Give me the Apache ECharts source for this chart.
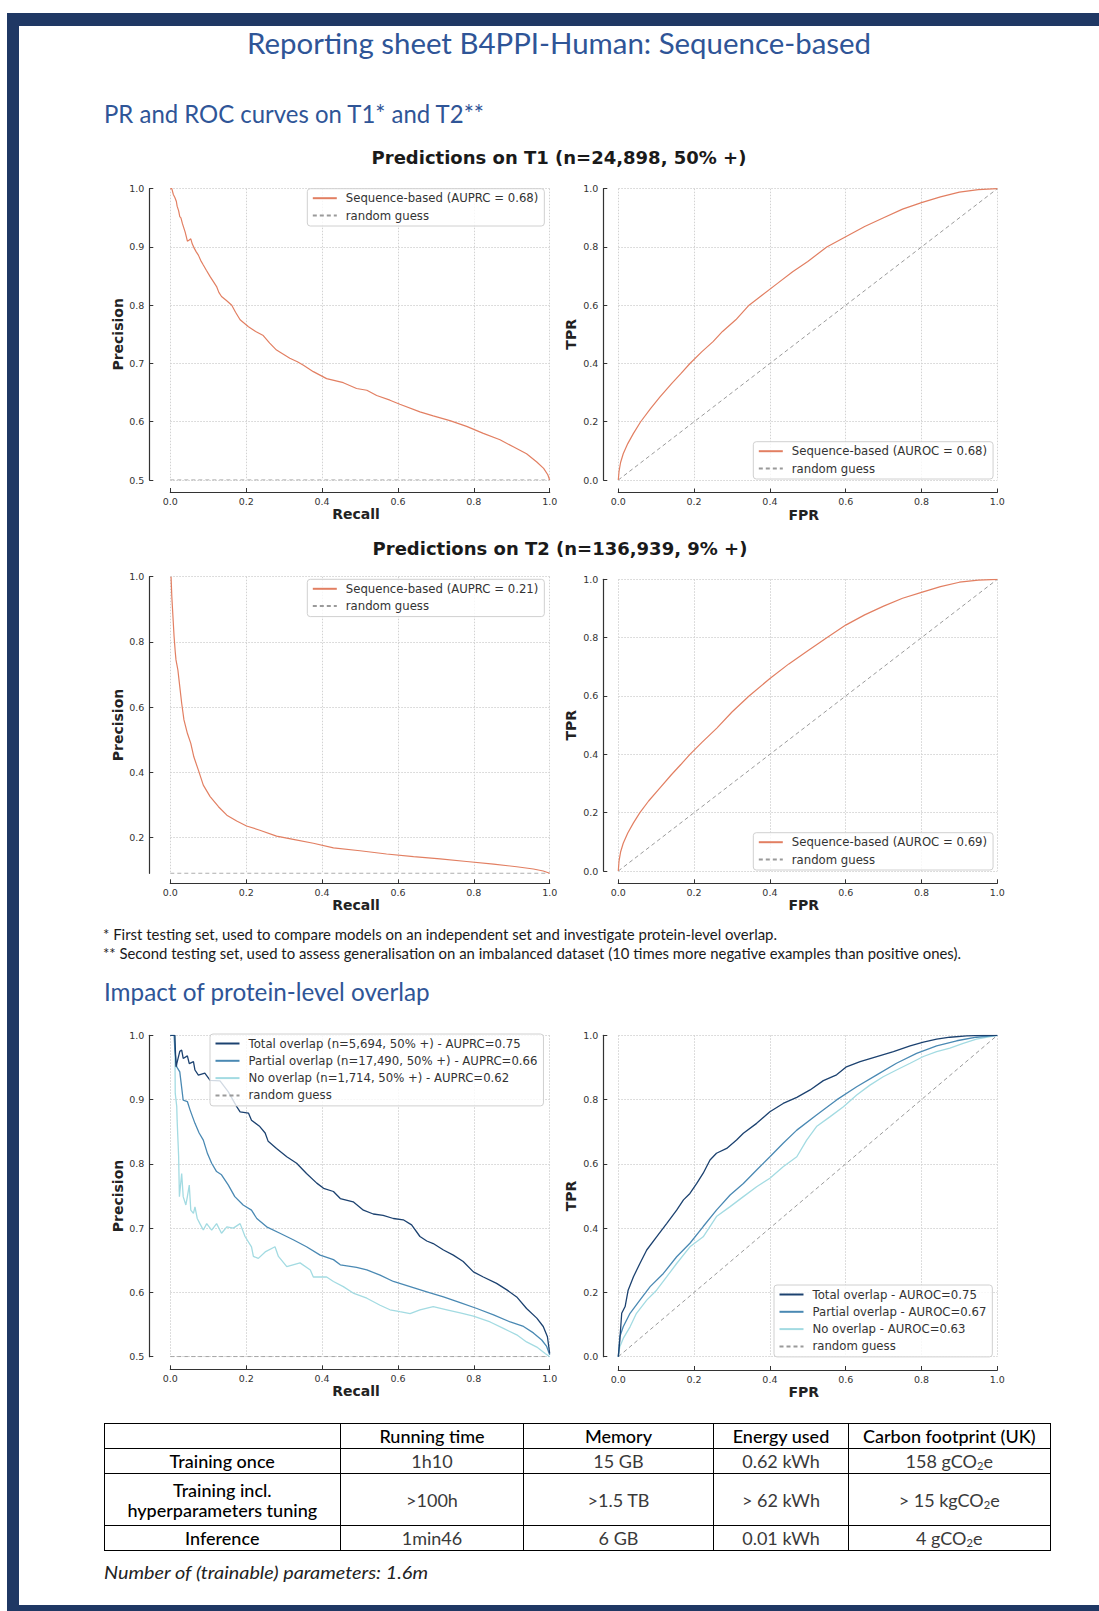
<!DOCTYPE html>
<html>
<head>
<meta charset="utf-8">
<script src="https://cdn.jsdelivr.net/npm/echarts@6/dist/echarts.min.js"></script>
<style>
html,body{margin:0;padding:0;background:#fff;}
#page{position:relative;width:1099px;height:1611px;overflow:hidden;background:#fff;}
#chart{position:absolute;left:0;top:0;width:1099px;height:1611px;}
.bar{position:absolute;background:#1F3864;}
.txt{position:absolute;white-space:nowrap;font-family:Lato,"Open Sans",sans-serif;line-height:1.2;transform-origin:0 50%;display:inline-block;}
.h{color:#2F5597;}
.note{color:#1a1a1a;font-size:15px;}
table.rep{position:absolute;left:103.5px;top:1423px;border-collapse:collapse;table-layout:fixed;font-family:Lato,"Open Sans",sans-serif;font-size:18px;}
table.rep td{border:1px solid #000;text-align:center;vertical-align:middle;padding:0;white-space:nowrap;overflow:visible;}
table.rep td.hd{color:#000;font-weight:500;}
table.rep td.v{color:#3a3a3a;font-weight:400;}
sub{font-size:0.62em;vertical-align:-0.18em;line-height:0;}
</style>
</head>
<body>
<div id="page">
  <div id="chart"></div>
  <div class="bar" style="left:7px;top:12.5px;right:0;height:13.5px"></div>
  <div class="bar" style="left:6.5px;top:12.5px;width:12px;bottom:0"></div>
  <div class="bar" style="left:6.5px;top:1605px;right:0;height:6px"></div>

  <div class="txt h" style="left:247px;top:26.7px;font-size:28px" data-w="624">Reporting sheet B4PPI-Human: Sequence-based</div>
  <div class="txt h" style="left:103.7px;top:98px;font-size:25px" data-w="380">PR and ROC curves on T1* and T2**</div>
  <div class="txt note" style="left:103px;top:925.2px" data-w="674">* First testing set, used to compare models on an independent set and investigate protein-level overlap.</div>
  <div class="txt note" style="left:103px;top:943.7px" data-w="858">** Second testing set, used to assess generalisation on an imbalanced dataset (10 times more negative examples than positive ones).</div>
  <div class="txt h" style="left:103.7px;top:976px;font-size:25px" data-w="325.6">Impact of protein-level overlap</div>

  <table class="rep">
    <colgroup><col style="width:236.5px"><col style="width:183px"><col style="width:190px"><col style="width:135px"><col style="width:201.5px"></colgroup>
    <tr style="height:25px"><td></td><td class="hd">Running time</td><td class="hd">Memory</td><td class="hd">Energy used</td><td class="hd">Carbon footprint (UK)</td></tr>
    <tr style="height:25px"><td class="hd">Training once</td><td class="v">1h10</td><td class="v">15 GB</td><td class="v">0.62 kWh</td><td class="v">158 gCO<sub>2</sub>e</td></tr>
    <tr style="height:52.4px"><td class="hd" style="line-height:20px">Training incl.<br>hyperparameters tuning</td><td class="v">&gt;100h</td><td class="v">&gt;1.5 TB</td><td class="v">&gt; 62 kWh</td><td class="v">&gt; 15 kgCO<sub>2</sub>e</td></tr>
    <tr style="height:24.3px"><td class="hd">Inference</td><td class="v">1min46</td><td class="v">6 GB</td><td class="v">0.01 kWh</td><td class="v">4 gCO<sub>2</sub>e</td></tr>
  </table>

  <div class="txt" style="left:103.7px;top:1563.2px;font-size:17px;font-style:italic;color:#222" data-w="324">Number of (trainable) parameters: 1.6m</div>
</div>

<script>
// ================= DATA =================
const t1Title = 'Predictions on T1 (n=24,898, 50% +)';
const t2Title = 'Predictions on T2 (n=136,939, 9% +)';
const unitTicks = [0, 0.2, 0.4, 0.6, 0.8, 1.0];
const t2PrTicks = [0.2, 0.4, 0.6, 0.8, 1.0];

const t1PrName = 'Sequence-based (AUPRC = 0.68)';
const t1RocName = 'Sequence-based (AUROC = 0.68)';
const t2PrName = 'Sequence-based (AUPRC = 0.21)';
const t2RocName = 'Sequence-based (AUROC = 0.69)';
const randomName = 'random guess';
const ovPrNames = ['Total overlap (n=5,694, 50% +) - AUPRC=0.75', 'Partial overlap (n=17,490, 50% +) - AUPRC=0.66', 'No overlap (n=1,714, 50% +) - AUPRC=0.62'];
const ovRocNames = ['Total overlap - AUROC=0.75', 'Partial overlap - AUROC=0.67', 'No overlap - AUROC=0.63'];

const t1PR = [[0,1.0],[0.004,1.0],[0.008,0.99],[0.012,0.985],[0.016,0.978],[0.018,0.97],[0.022,0.962],[0.025,0.952],[0.028,0.95],[0.032,0.94],[0.036,0.932],[0.039,0.926],[0.042,0.918],[0.045,0.91],[0.05,0.912],[0.054,0.914],[0.058,0.905],[0.063,0.898],[0.068,0.892],[0.074,0.886],[0.08,0.877],[0.087,0.869],[0.095,0.86],[0.105,0.849],[0.114,0.84],[0.122,0.832],[0.128,0.822],[0.135,0.815],[0.148,0.808],[0.162,0.8],[0.172,0.788],[0.184,0.775],[0.206,0.763],[0.225,0.755],[0.245,0.748],[0.262,0.735],[0.28,0.723],[0.298,0.716],[0.315,0.709],[0.335,0.703],[0.351,0.697],[0.377,0.686],[0.412,0.674],[0.456,0.667],[0.491,0.657],[0.518,0.654],[0.544,0.645],[0.579,0.637],[0.605,0.63],[0.658,0.617],[0.693,0.61],[0.737,0.602],[0.781,0.592],[0.825,0.58],[0.869,0.569],[0.904,0.557],[0.939,0.545],[0.966,0.531],[0.984,0.52],[0.995,0.509],[1.0,0.5]];
const t1ROC = [[0,0],[0.002,0.03],[0.006,0.06],[0.013,0.09],[0.025,0.125],[0.04,0.16],[0.059,0.2],[0.085,0.245],[0.11,0.285],[0.14,0.33],[0.165,0.365],[0.189,0.4],[0.22,0.44],[0.25,0.475],[0.275,0.51],[0.31,0.55],[0.345,0.6],[0.38,0.635],[0.42,0.675],[0.46,0.715],[0.5,0.75],[0.55,0.8],[0.6,0.835],[0.65,0.87],[0.7,0.9],[0.75,0.93],[0.8,0.952],[0.85,0.972],[0.9,0.988],[0.95,0.997],[1,1]];
const t2PR = [[0.002,1.0],[0.004,0.939],[0.007,0.877],[0.01,0.816],[0.013,0.77],[0.015,0.745],[0.02,0.714],[0.024,0.673],[0.03,0.612],[0.036,0.561],[0.045,0.52],[0.054,0.489],[0.062,0.448],[0.074,0.407],[0.087,0.361],[0.105,0.326],[0.127,0.295],[0.149,0.269],[0.175,0.251],[0.201,0.236],[0.236,0.223],[0.28,0.205],[0.324,0.195],[0.377,0.183],[0.43,0.169],[0.5,0.16],[0.57,0.15],[0.641,0.142],[0.711,0.135],[0.781,0.127],[0.852,0.119],[0.913,0.111],[0.957,0.104],[0.983,0.098],[1.0,0.091]];
const t2ROC = [[0,0],[0.002,0.035],[0.006,0.065],[0.013,0.095],[0.025,0.13],[0.04,0.165],[0.057,0.2],[0.08,0.24],[0.11,0.285],[0.14,0.33],[0.165,0.365],[0.189,0.4],[0.22,0.44],[0.26,0.49],[0.3,0.545],[0.345,0.6],[0.4,0.66],[0.45,0.71],[0.5,0.755],[0.55,0.8],[0.6,0.843],[0.65,0.878],[0.7,0.908],[0.75,0.935],[0.8,0.955],[0.85,0.975],[0.9,0.99],[0.95,0.997],[1,1]];

const ovTotalPR = [[0,1.0],[0.012,1.0],[0.015,0.951],[0.025,0.975],[0.03,0.977],[0.034,0.964],[0.045,0.968],[0.05,0.956],[0.061,0.959],[0.065,0.946],[0.074,0.938],[0.091,0.941],[0.105,0.93],[0.131,0.929],[0.153,0.912],[0.175,0.889],[0.184,0.881],[0.206,0.879],[0.214,0.868],[0.236,0.858],[0.25,0.848],[0.258,0.835],[0.28,0.824],[0.307,0.811],[0.333,0.801],[0.359,0.785],[0.386,0.77],[0.404,0.762],[0.43,0.757],[0.448,0.746],[0.482,0.741],[0.509,0.728],[0.535,0.722],[0.561,0.72],[0.588,0.715],[0.614,0.713],[0.636,0.705],[0.658,0.687],[0.676,0.68],[0.693,0.676],[0.72,0.666],[0.746,0.658],[0.772,0.648],[0.799,0.632],[0.825,0.624],[0.86,0.614],[0.887,0.604],[0.913,0.593],[0.939,0.575],[0.966,0.56],[0.983,0.547],[0.994,0.531],[1.0,0.505]];
const ovPartialPR = [[0,1.0],[0.01,1.0],[0.012,0.977],[0.017,0.951],[0.025,0.943],[0.034,0.899],[0.045,0.897],[0.052,0.884],[0.065,0.863],[0.076,0.848],[0.087,0.837],[0.098,0.816],[0.109,0.801],[0.122,0.788],[0.135,0.783],[0.153,0.767],[0.17,0.749],[0.192,0.736],[0.214,0.728],[0.228,0.715],[0.254,0.702],[0.289,0.692],[0.324,0.682],[0.359,0.671],[0.395,0.658],[0.43,0.651],[0.448,0.643],[0.491,0.639],[0.518,0.635],[0.553,0.627],[0.588,0.617],[0.632,0.609],[0.676,0.601],[0.72,0.593],[0.764,0.584],[0.808,0.575],[0.852,0.565],[0.896,0.554],[0.931,0.547],[0.957,0.537],[0.979,0.526],[0.992,0.516],[1.0,0.503]];
const ovNoPR = [[0,1.0],[0.012,1.0],[0.013,0.91],[0.017,0.889],[0.018,0.868],[0.022,0.811],[0.024,0.749],[0.03,0.785],[0.034,0.749],[0.041,0.736],[0.045,0.749],[0.05,0.767],[0.054,0.728],[0.061,0.723],[0.065,0.733],[0.071,0.715],[0.078,0.707],[0.087,0.697],[0.096,0.707],[0.109,0.697],[0.122,0.707],[0.135,0.692],[0.149,0.702],[0.166,0.7],[0.184,0.707],[0.197,0.687],[0.214,0.671],[0.219,0.656],[0.232,0.653],[0.25,0.663],[0.276,0.671],[0.285,0.656],[0.307,0.64],[0.342,0.646],[0.369,0.635],[0.377,0.624],[0.412,0.624],[0.43,0.617],[0.456,0.609],[0.482,0.599],[0.518,0.591],[0.553,0.58],[0.579,0.573],[0.605,0.57],[0.632,0.567],[0.658,0.573],[0.693,0.578],[0.729,0.573],[0.764,0.568],[0.799,0.563],[0.843,0.554],[0.878,0.544],[0.913,0.534],[0.939,0.523],[0.966,0.515],[0.988,0.505],[1.0,0.5]];

const ovTotalROC = [[0,0],[0.004,0.052],[0.009,0.135],[0.018,0.156],[0.026,0.207],[0.04,0.249],[0.057,0.29],[0.075,0.332],[0.101,0.373],[0.128,0.415],[0.154,0.456],[0.172,0.488],[0.189,0.508],[0.207,0.539],[0.224,0.571],[0.242,0.612],[0.259,0.633],[0.286,0.648],[0.312,0.674],[0.33,0.695],[0.365,0.726],[0.4,0.762],[0.435,0.788],[0.471,0.807],[0.506,0.83],[0.541,0.859],[0.576,0.877],[0.602,0.902],[0.638,0.918],[0.682,0.934],[0.726,0.949],[0.77,0.967],[0.805,0.979],[0.84,0.988],[0.875,0.994],[0.919,0.998],[0.963,1.0],[1,1]];
const ovPartialROC = [[0,0],[0.004,0.062],[0.013,0.093],[0.031,0.135],[0.057,0.176],[0.084,0.218],[0.119,0.259],[0.154,0.311],[0.189,0.353],[0.224,0.405],[0.259,0.456],[0.295,0.503],[0.33,0.539],[0.365,0.581],[0.4,0.622],[0.435,0.664],[0.471,0.705],[0.523,0.752],[0.576,0.799],[0.629,0.84],[0.682,0.877],[0.734,0.913],[0.787,0.944],[0.84,0.967],[0.893,0.983],[0.945,0.994],[1,1]];
const ovNoROC = [[0,0],[0.004,0.031],[0.013,0.057],[0.031,0.093],[0.048,0.135],[0.075,0.176],[0.101,0.207],[0.128,0.249],[0.154,0.29],[0.189,0.342],[0.224,0.373],[0.259,0.436],[0.295,0.467],[0.33,0.498],[0.365,0.529],[0.4,0.555],[0.435,0.591],[0.471,0.622],[0.497,0.674],[0.523,0.716],[0.559,0.747],[0.594,0.778],[0.629,0.814],[0.664,0.845],[0.699,0.871],[0.734,0.892],[0.77,0.913],[0.805,0.934],[0.84,0.949],[0.875,0.96],[0.91,0.975],[0.945,0.988],[1,1]];

const prRandom50 = [[0,0.5],[1,0.5]];
const prRandom9 = [[0,0.0909],[1,0.0909]];
const rocRandom = [[0,0],[1,1]];

// ================= STYLE / LAYOUT =================
const FONT = '"DejaVu Sans", sans-serif';
const ORANGE = '#E27F62';
const NAVY = '#1c4270', MID = '#4a89b3', LIGHT = '#a3dbe2';
const GRAY = '#9a9a9a';
const fmt = v => (Math.round(v * 10) / 10).toFixed(1);

const grids = [
  {left:170.3, top:188.7, width:379.4, height:291.3},
  {left:618.3, top:188.7, width:379,   height:291.3},
  {left:170.3, top:576.7, width:379.4, height:296.6},
  {left:618.3, top:579.3, width:379,   height:291.7},
  {left:170.3, top:1035.3, width:379.4, height:321.4},
  {left:618.3, top:1035.3, width:379,   height:321.4}
];
const xOffsets = [12, 12.5, 10, 12.3, 12.6, 13.3];

function xAxisOf(i, name) {
  return {
    type:'value', gridIndex:i, min:0, max:1, interval:0.2, offset:xOffsets[i],
    name, nameLocation:'middle', nameGap:15,
    nameTextStyle:{fontFamily:FONT, fontWeight:'bold', fontSize:14, color:'#222', padding:[0,8,0,0]},
    axisLine:{show:true, onZero:false, lineStyle:{color:'#333', width:1.2}},
    axisTick:{show:true, inside:true, length:4, lineStyle:{color:'#333'}},
    axisLabel:{fontFamily:FONT, fontSize:9.5, color:'#333', margin:4, formatter:fmt, hideOverlap:false},
    splitLine:{show:true, lineStyle:{color:'#d2d2d2', type:[1.5,1.5], width:1}}
  };
}
function yAxisOf(i, name, min, max, interval, offset, custom) {
  const ax = {
    type:'value', gridIndex:i, min, max, offset,
    name, nameLocation:'middle', nameGap: name === 'TPR' ? 25 : 24,
    nameTextStyle:{fontFamily:FONT, fontWeight:'bold', fontSize:14, color:'#222'},
    axisLine:{show:true, onZero:false, lineStyle:{color:'#333', width:1.2}},
    axisTick:{show:true, inside:true, length:4, lineStyle:{color:'#333'}},
    axisLabel:{fontFamily:FONT, fontSize:9.5, color:'#333', margin:5, formatter:fmt, hideOverlap:false},
    splitLine:{show:true, lineStyle:{color:'#d2d2d2', type:[1.5,1.5], width:1}}
  };
  if (custom) {
    ax.axisLabel.customValues = custom;
    ax.axisTick.customValues = custom;
  } else {
    ax.interval = interval;
  }
  return ax;
}

function lineSeries(i, name, data, color, dashed, width) {
  return {
    type:'line', name, data, xAxisIndex:i, yAxisIndex:i,
    symbol:'none', showSymbol:false, silent:true, animation:false, z: dashed ? 2 : 3,
    lineStyle:{color, width: width || 1.2, type: dashed ? [4,3] : 'solid'},
    itemStyle:{color},
    emphasis:{disabled:true}
  };
}

function legendOf(left, top, names) {
  return {
    show:true, orient:'vertical', left, top, data:names, selectedMode:false,
    itemWidth:24, itemHeight:10, itemGap:3.3,
    padding:[2.5, 6, 3.5, 4.5],
    backgroundColor:'rgba(255,255,255,0.8)', borderColor:'#d0d0d0', borderWidth:1, borderRadius:3,
    textStyle:{fontFamily:FONT, fontSize:11.7, color:'#333', lineHeight:14, padding:[0,0,0,4]},
    itemStyle:{opacity:0}
  };
}

const option = {
  animation:false,
  grid: grids.map(g => Object.assign({containLabel:false}, g)),
  xAxis: [
    xAxisOf(0, 'Recall'), xAxisOf(1, 'FPR'),
    xAxisOf(2, 'Recall'), xAxisOf(3, 'FPR'),
    xAxisOf(4, 'Recall'), xAxisOf(5, 'FPR')
  ],
  yAxis: [
    yAxisOf(0, 'Precision', 0.5, 1.0, 0.1, 21),
    yAxisOf(1, 'TPR', 0, 1, 0.2, 15),
    yAxisOf(2, 'Precision', 0.0909, 1.0, null, 21, t2PrTicks),
    yAxisOf(3, 'TPR', 0, 1, 0.2, 15),
    yAxisOf(4, 'Precision', 0.5, 1.0, 0.1, 21),
    yAxisOf(5, 'TPR', 0, 1, 0.2, 15)
  ],
  legend: [
    legendOf(307.3, 188.7, [t1PrName, randomName]),
    legendOf(753.3, 441.7, [t1RocName, randomName]),
    legendOf(307.3, 579.3, [t2PrName, randomName]),
    legendOf(753.3, 832.7, [t2RocName, randomName]),
    legendOf(210, 1034, ovPrNames.concat([randomName])),
    legendOf(774, 1285, ovRocNames.concat([randomName]))
  ],
  graphic: [
    {type:'text', x:559, y:157.5, silent:true, style:{text:t1Title, font:'bold 18px "DejaVu Sans"', fill:'#1a1a1a', align:'center', verticalAlign:'middle'}},
    {type:'text', x:560, y:548, silent:true, style:{text:t2Title, font:'bold 18px "DejaVu Sans"', fill:'#1a1a1a', align:'center', verticalAlign:'middle'}}
  ],
  series: [
    lineSeries(0, randomName, prRandom50, GRAY, true, 1),
    lineSeries(0, t1PrName, t1PR, ORANGE),
    lineSeries(1, randomName, rocRandom, GRAY, true, 1),
    lineSeries(1, t1RocName, t1ROC, ORANGE),
    lineSeries(2, randomName, prRandom9, GRAY, true, 1),
    lineSeries(2, t2PrName, t2PR, ORANGE),
    lineSeries(3, randomName, rocRandom, GRAY, true, 1),
    lineSeries(3, t2RocName, t2ROC, ORANGE),
    lineSeries(4, randomName, prRandom50, GRAY, true, 1),
    lineSeries(4, ovPrNames[2], ovNoPR, LIGHT, false, 1.3),
    lineSeries(4, ovPrNames[1], ovPartialPR, MID, false, 1.3),
    lineSeries(4, ovPrNames[0], ovTotalPR, NAVY, false, 1.3),
    lineSeries(5, randomName, rocRandom, GRAY, true, 1),
    lineSeries(5, ovRocNames[2], ovNoROC, LIGHT, false, 1.3),
    lineSeries(5, ovRocNames[1], ovPartialROC, MID, false, 1.3),
    lineSeries(5, ovRocNames[0], ovTotalROC, NAVY, false, 1.3)
  ]
};

const chart = echarts.init(document.getElementById('chart'), null, {renderer:'svg', width:1099, height:1611});
chart.setOption(option);

// fit substitute-font text to the reference widths
document.querySelectorAll('[data-w]').forEach(el => {
  const w = el.getBoundingClientRect().width;
  const target = parseFloat(el.getAttribute('data-w'));
  if (w > 0) el.style.transform = 'scaleX(' + (target / w).toFixed(4) + ')';
});
</script>
</body>
</html>
